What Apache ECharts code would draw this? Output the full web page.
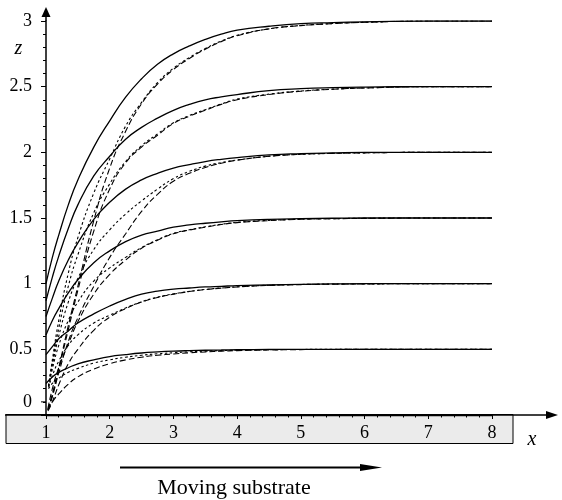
<!DOCTYPE html>
<html>
<head>
<meta charset="utf-8">
<script src="https://cdn.jsdelivr.net/npm/echarts@6/dist/echarts.min.js"></script>
<style>html,body{margin:0;padding:0;background:#fff}#c{width:562px;height:500px}</style>
</head>
<body>
<div id="c"></div>
<script>
// ---- data ----
const xTickLabels = ['1','2','3','4','5','6','7','8'];
const yTickLabels = ['0','0.5','1','1.5','2','2.5','3'];
const xSolid = [1,    1.1, 1.2, 1.35, 1.5, 1.75, 2, 2.25, 2.5, 2.75, 3, 3.25, 3.5, 3.75, 4, 4.5, 5, 5.5, 6, 7, 8];
const xLong  = [1.03, 1.1, 1.2, 1.35, 1.5, 1.75, 2, 2.25, 2.5, 2.75, 3, 3.25, 3.5, 3.75, 4, 4.5, 5, 5.5, 6, 7, 8];
const xShort = [1.04, 1.1, 1.2, 1.35, 1.5, 1.75, 2, 2.25, 2.5, 2.75, 3, 3.25, 3.5, 3.75, 4, 4.5, 5, 5.5, 6, 7, 8];

const solid05 = [0.24,0.29,0.325,0.36,0.39,0.42,0.445,0.46,0.472,0.48,0.486,0.49,0.493,0.495,0.497,0.499,0.5,0.5,0.5,0.5,0.5];
const solid10 = [0.46,0.52,0.58,0.64,0.70,0.77,0.83,0.88,0.92,0.943,0.958,0.967,0.975,0.98,0.985,0.99,0.995,0.998,1,1,1];
const solid15 = [0.61,0.72,0.81,0.93,1.03,1.16,1.25,1.32,1.37,1.40,1.43,1.447,1.46,1.471,1.48,1.49,1.495,1.498,1.5,1.5,1.5];
const solid20 = [0.75,0.89,1.02,1.18,1.31,1.49,1.62,1.72,1.79,1.84,1.88,1.907,1.93,1.947,1.96,1.98,1.99,1.996,2,2,2];
const solid25 = [0.87,1.05,1.21,1.42,1.6,1.82,1.97,2.1,2.19,2.26,2.32,2.365,2.4,2.422,2.44,2.47,2.485,2.493,2.497,2.5,2.5];
const solid30 = [1.0,1.2,1.37,1.6,1.79,2.04,2.24,2.42,2.56,2.67,2.75,2.81,2.86,2.9,2.93,2.96,2.98,2.988,2.993,3,3];

const long05 = [0.04,0.1,0.16,0.235,0.29,0.35,0.39,0.42,0.44,0.455,0.465,0.474,0.48,0.486,0.49,0.495,0.498,0.499,0.5,0.5,0.5];
const long10 = [0.03,0.1,0.23,0.39,0.5,0.645,0.745,0.81,0.86,0.895,0.92,0.94,0.955,0.966,0.975,0.987,0.993,0.996,0.998,1,1];
const long15 = [0.05,0.2,0.36,0.54,0.71,0.92,1.07,1.18,1.27,1.33,1.38,1.408,1.43,1.45,1.465,1.48,1.49,1.494,1.497,1.5,1.5];
const long20 = [0.04,0.14,0.32,0.56,0.74,0.98,1.2,1.38,1.55,1.68,1.78,1.84,1.885,1.917,1.94,1.97,1.985,1.992,1.996,2,2];
const long25 = [0.04,0.15,0.35,0.65,0.95,1.4,1.72,1.92,2.04,2.13,2.22,2.275,2.32,2.365,2.4,2.44,2.465,2.48,2.49,2.5,2.5];
const long30 = [0.04,0.16,0.36,0.68,0.98,1.48,1.88,2.16,2.37,2.52,2.63,2.715,2.785,2.843,2.888,2.94,2.965,2.98,2.99,3,3];

const short05 = [0.2,0.24,0.28,0.325,0.355,0.395,0.42,0.44,0.455,0.466,0.474,0.481,0.486,0.49,0.493,0.497,0.499,0.5,0.5,0.5,0.5];
const short10 = [0.21,0.3,0.41,0.53,0.61,0.7,0.76,0.815,0.862,0.897,0.922,0.941,0.956,0.967,0.976,0.988,0.994,0.997,0.998,1,1];
const short15 = [0.22,0.35,0.53,0.72,0.86,1.02,1.12,1.2,1.275,1.335,1.383,1.41,1.433,1.452,1.467,1.482,1.491,1.495,1.498,1.5,1.5];
const short20 = [0.22,0.38,0.6,0.86,1.04,1.26,1.41,1.53,1.63,1.72,1.8,1.855,1.895,1.922,1.942,1.97,1.985,1.992,1.996,2,2];
const short25 = [0.22,0.4,0.66,0.98,1.22,1.54,1.76,1.93,2.05,2.14,2.225,2.28,2.325,2.368,2.405,2.443,2.467,2.481,2.49,2.5,2.5];
const short30 = [0.22,0.42,0.72,1.08,1.35,1.69,1.95,2.2,2.38,2.53,2.64,2.722,2.79,2.847,2.891,2.94,2.966,2.981,2.99,3,3];

// ---- chart ----
const FONT = '"Liberation Serif", "DejaVu Serif", serif';
const zip = (xs, ys) => xs.map((x, i) => [x, ys[i]]);
function line(name, xs, ys, type, width) {
  return {
    name, type: 'line', data: zip(xs, ys), showSymbol: false, symbol: 'none',
    smooth: 0.5, silent: true, z: 3,
    lineStyle: { color: '#000', width: width, type: type }
  };
}
const series = [];
[[solid05,long05,short05],[solid10,long10,short10],[solid15,long15,short15],
 [solid20,long20,short20],[solid25,long25,short25],[solid30,long30,short30]].forEach((g, i) => {
  series.push(line('solid' + i, xSolid, g[0], 'solid', 1.3));
  series.push(line('long' + i, xLong, g[1], [6, 3], 1.1));
  series.push(line('short' + i, xShort, g[2], [2.5, 2.5], 1.1));
});

const chart = echarts.init(document.getElementById('c'), null, { renderer: 'canvas' });
chart.setOption({
  animation: false,
  backgroundColor: '#fff',
  grid: { left: 46, right: 70, top: 21, bottom: 85, containLabel: false },
  xAxis: {
    type: 'value', min: 1, max: 8, interval: 1, z: 10,
    axisLine: { show: true, lineStyle: { color: '#000', width: 1.3 } },
    axisTick: { show: true, length: 4, lineStyle: { color: '#000', width: 1 } },
    minorTick: { show: true, splitNumber: 5, length: 2.5, lineStyle: { color: '#000', width: 1 } },
    splitLine: { show: false },
    axisLabel: { margin: 9, color: '#000', fontFamily: FONT, fontSize: 18,
      formatter: v => xTickLabels[Math.round(v) - 1] || '' }
  },
  yAxis: {
    type: 'value', min: 0, max: 3, interval: 0.5, z: 10,
    axisLine: { show: true, lineStyle: { color: '#000', width: 1.5 } },
    axisTick: { show: true, length: 5, lineStyle: { color: '#000', width: 1 } },
    minorTick: { show: true, splitNumber: 5, length: 3, lineStyle: { color: '#000', width: 1 } },
    splitLine: { show: false },
    axisLabel: { margin: 14, color: '#000', fontFamily: FONT, fontSize: 18,
      formatter: v => (v === 0 ? '' : yTickLabels[Math.round(v * 2)]) }
  },
  series: series
});

// ---- decorations anchored on the axes ----
const P = (x, y) => chart.convertToPixel({ gridIndex: 0 }, [x, y]);
const o = P(1, 0), t3 = P(1, 3), zeroLab = P(1, 0.1);
const ax = o[0], ay = o[1];
const blk = { stroke: '#000', lineWidth: 1.3 };
chart.setOption({
  graphic: [
    { type: 'rect', z: -5, silent: true, shape: { x: 6, y: ay - 0.5, width: 507, height: 29 },
      style: { fill: '#ebebeb', stroke: '#000', lineWidth: 1 } },
    { type: 'line', z: 20, silent: true, shape: { x1: 5, y1: ay, x2: 549, y2: ay }, style: blk },
    { type: 'polygon', z: 20, silent: true, shape: { points: [[546, ay - 4], [558, ay], [546, ay + 4]] }, style: { fill: '#000' } },
    { type: 'line', z: 20, silent: true, shape: { x1: ax, y1: t3[1], x2: ax, y2: 15 }, style: { stroke: '#000', lineWidth: 1.5 } },
    { type: 'polygon', z: 20, silent: true, shape: { points: [[ax - 4.5, 17], [ax, 7], [ax + 4.5, 17]] }, style: { fill: '#000' } },
    { type: 'line', z: 20, silent: true, shape: { x1: ax - 5, y1: zeroLab[1], x2: ax, y2: zeroLab[1] }, style: { stroke: '#000', lineWidth: 1 } },
    { type: 'text', z: 20, silent: true, style: { text: yTickLabels[0], x: ax - 14, y: zeroLab[1], align: 'right', verticalAlign: 'middle', textAlign: 'right', textVerticalAlign: 'middle', font: '18px ' + FONT, fill: '#000' } },
    { type: 'text', z: 20, silent: true, style: { text: 'z', x: 18.5, y: 49, align: 'center', verticalAlign: 'middle', textAlign: 'center', textVerticalAlign: 'middle', font: 'italic 20px ' + FONT, fill: '#000' } },
    { type: 'text', z: 20, silent: true, style: { text: 'x', x: 532, y: 440, align: 'center', verticalAlign: 'middle', textAlign: 'center', textVerticalAlign: 'middle', font: 'italic 20px ' + FONT, fill: '#000' } },
    { type: 'line', z: 20, silent: true, shape: { x1: 120, y1: 467.5, x2: 364, y2: 467.5 }, style: { stroke: '#000', lineWidth: 2 } },
    { type: 'polygon', z: 20, silent: true, shape: { points: [[360, 464], [382, 467.5], [360, 471]] }, style: { fill: '#000' } },
    { type: 'text', z: 20, silent: true, style: { text: 'Moving substrate', x: 234, y: 488, align: 'center', verticalAlign: 'middle', textAlign: 'center', textVerticalAlign: 'middle', font: '22px ' + FONT, fill: '#000' } }
  ]
});
</script>
</body>
</html>
